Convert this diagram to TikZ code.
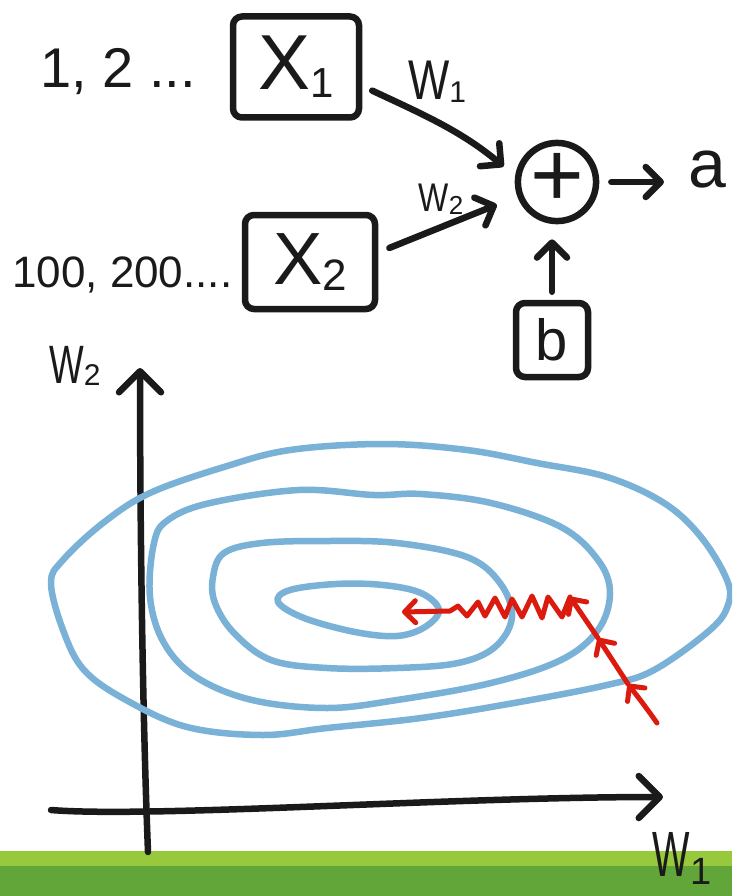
\documentclass[tikz,border=0pt]{standalone}
\usepackage{fontspec}
\usepackage{graphicx}
\setmainfont{Liberation Sans}
\usetikzlibrary{arrows.meta}
\definecolor{inkc}{HTML}{1A1A1A}
\definecolor{contourc}{HTML}{7AB1D7}
\definecolor{redc}{HTML}{DC1B0F}
\definecolor{greenl}{HTML}{98C93C}
\definecolor{greend}{HTML}{62A539}
\newcommand{\handW}[1]{\scalebox{#1}[1]{W}}
\begin{document}
\begin{tikzpicture}[x=1pt,y=-1pt,
  ink/.style={draw=inkc, line width=6.5pt, line cap=round, line join=round},
  barb/.style={-{Straight Barb[length=15pt,width=30pt,round]}},
  axisbarb/.style={-{Straight Barb[length=21pt,width=42pt,round]}},
  boxnode/.style={draw=inkc, line width=6.5pt, rounded corners=9pt, inner sep=0pt, text=inkc},
  hand/.style={text=inkc, inner sep=0pt},
  contour/.style={draw=contourc, line width=6.5pt, line cap=round, line join=round},
  redpath/.style={draw=redc, line width=5pt, line cap=round, line join=round},
  redtip/.style={-{Straight Barb[length=11pt,width=22pt,round]}}
]
\useasboundingbox (0,0) rectangle (732,896);
\clip (0,0) rectangle (732,896);
\fill[white] (0,0) rectangle (732,896);
\fill[greenl] (0,851) rectangle (732,866);
\fill[greend] (0,866) rectangle (732,896);

% ---------- top network ----------
\node[boxnode, minimum width=126pt, minimum height=101pt] (x1) at (296,67)
  {\fontsize{78}{78}\selectfont X\raisebox{-8pt}{\fontsize{42}{42}\selectfont 1}};
\node[boxnode, minimum width=130pt, minimum height=94pt] (x2) at (310,262)
  {\fontsize{74}{74}\selectfont X\raisebox{-6pt}{\fontsize{44}{44}\selectfont 2}};
\node[boxnode, minimum width=72pt, minimum height=74pt] (b) at (552,340)
  {\fontsize{58}{58}\selectfont b};
\node[draw=inkc, line width=6.5pt, circle, minimum size=66pt, inner sep=0pt, text=inkc] (sum) at (557,182)
  {\fontsize{92}{92}\selectfont\raisebox{4pt}{+}};
\node[hand, anchor=west] (a) at (688,170) {\fontsize{68}{68}\selectfont a};

\node[hand, anchor=base west] (in1) at (40,88) {\fontsize{56}{56}\selectfont 1, 2 ...};
\node[hand, anchor=base west] (in2) at (12,287) {\fontsize{44}{44}\selectfont 100, 200....};

\node[hand] (w1lab) at (437,82) {\fontsize{56}{56}\selectfont\handW{0.78}\raisebox{-3pt}{\fontsize{30}{30}\selectfont 1}};
\node[hand] (w2lab) at (441,199) {\fontsize{40}{40}\selectfont\handW{0.8}\raisebox{-3pt}{\fontsize{26}{26}\selectfont 2}};

\draw[ink, barb, shorten <=11pt, shorten >=15pt] (x1.-16) to[out=-25, in=140] (sum.172);
\draw[ink, barb, shorten <=12pt, shorten >=22pt] (x2.8) -- (sum.200);
\draw[ink, barb, shorten <=12pt, shorten >=24pt] (sum.east) -- (a.west |- sum.east);
\draw[ink, barb, shorten <=8pt, shorten >=15pt] (b.north) -- (b.north |- sum.south);

% ---------- axes ----------
\coordinate (yb) at (148,852);
\coordinate (yt) at (140,368);
\coordinate (xl) at (51,810);
\coordinate (xr) at (663,797);
\draw[ink, axisbarb] (yb) .. controls (142,700) and (140,500) .. (yt);
\draw[ink, axisbarb] (xl) .. controls (150,818) and (450,797) .. (xr);

\node[hand] (w2ax) at (75,366) {\fontsize{54}{54}\selectfont\handW{0.68}\raisebox{-2pt}{\fontsize{30}{30}\selectfont 2}};
\node[hand] (w1ax) at (682,858) {\fontsize{64}{64}\selectfont\handW{0.62}\raisebox{-8pt}{\fontsize{38}{38}\selectfont 1}};

% ---------- contours ----------
\draw[contour] plot[smooth cycle, tension=0.6] coordinates {
  (51,583) (63,560) (103,523) (150,493) (224,467) (290,450) (383,444) (467,450)
  (537,463) (607,477) (664,503) (701,537) (727,580) (728,605) (710,630) (654,670)
  (607,685) (514,703) (421,718) (327,728) (262,735) (187,727) (126,700) (84,670) (63,630)};
\draw[contour] plot[smooth cycle, tension=0.6] coordinates {
  (154,543) (168,520) (210,503) (299,490) (374,495) (421,494) (491,503) (561,527)
  (598,560) (610,593) (598,630) (561,660) (491,683) (397,700) (327,708) (252,700)
  (196,677) (164,643) (150,597)};
\draw[contour] plot[smooth cycle, tension=0.6] coordinates {
  (213,577) (224,553) (262,543) (327,541) (397,543) (467,557) (500,583) (512,617)
  (495,647) (458,663) (397,668) (327,668) (271,660) (234,633) (215,603)};
\draw[contour] plot[smooth cycle, tension=0.6] coordinates {
  (278,602) (290,590) (336,584) (383,585) (421,593) (439,610) (425,627) (397,636)
  (355,632) (304,618)};

% ---------- red descent path ----------
\coordinate (r0) at (657,723);
\coordinate (r1) at (628,684);
\coordinate (r2) at (598,638);
\coordinate (r3) at (570,597);
\coordinate (r4) at (402,612);
\draw[redpath, redtip] (r0) .. controls (648,710) and (638,697) .. (r1);
\draw[redpath, redtip] (r1) -- (r2);
\draw[redpath, redtip] (r2) -- (r3);
\draw[redpath, redtip] (r3) -- (562,617) -- (548,597) -- (542,618) -- (532,596) -- (522,617)
  -- (512,599) -- (505,617) -- (495,598) -- (485,616) -- (478,602) -- (467,616)
  -- (458,606) -- (450,611) -- (r4);
\end{tikzpicture}
\end{document}
